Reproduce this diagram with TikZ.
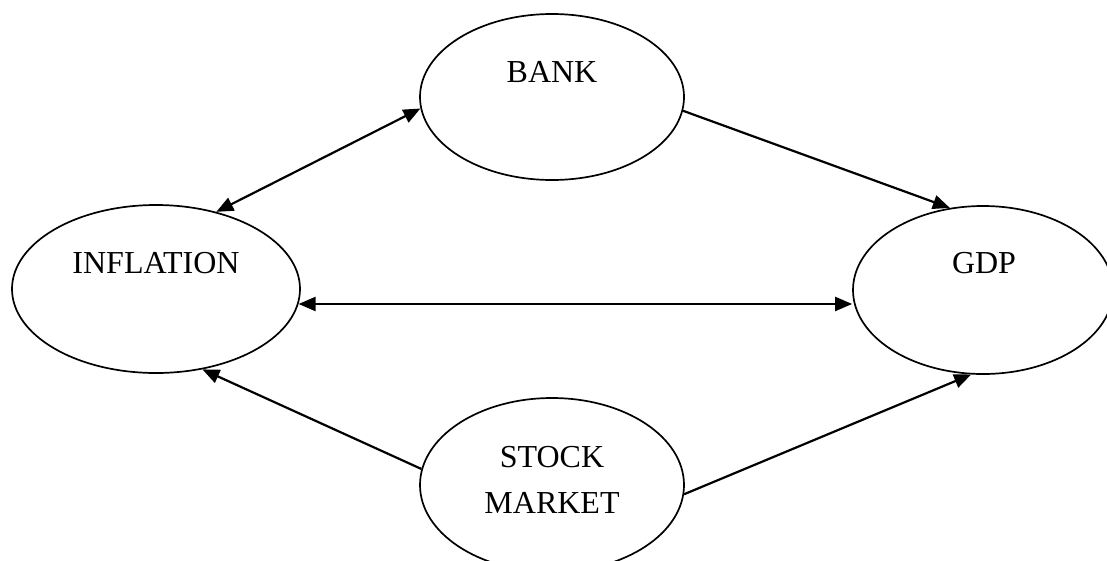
\documentclass[tikz,border=0pt]{standalone}
\usepackage{fontspec}
\setmainfont{Liberation Serif}
\usetikzlibrary{arrows.meta,shapes.geometric}

\tikzset{
  topic/.style={draw=black, line width=1.7pt, ellipse, inner sep=0pt, fill=none},
  caption/.style={inner sep=0pt, align=center, font=\fontsize{32}{46}\selectfont},
  tip/.style={Triangle[length=17pt,width=14pt]},
  link/.style={line width=2.2pt, -{Triangle[length=17pt,width=14pt]}},
  twoway/.style={line width=2.2pt, {Triangle[length=17pt,width=14pt]}-{Triangle[length=17pt,width=14pt]}}
}

\begin{document}
\begin{tikzpicture}[x=1pt, y=-1pt]
  \useasboundingbox (0,0) rectangle (1107,560);
  \clip (0,0) rectangle (1107,560);

  % the four ellipses
  \node[topic, minimum width=264pt, minimum height=166pt] (bank)  at (552,97)  {};
  \node[topic, minimum width=288pt, minimum height=168pt] (infl)  at (156,289) {};
  \node[topic, minimum width=260pt, minimum height=168pt] (gdp)   at (983,290) {};
  \node[topic, minimum width=264pt, minimum height=174pt] (stock) at (552,485) {};

  % their captions, set above the centre
  \node[caption] (bankT)  at (552,72)  {BANK};
  \node[caption] (inflT)  at (156,263) {INFLATION};
  \node[caption] (gdpT)   at (984,263) {GDP};
  \node[caption] (stockT) at (552,480) {STOCK\\MARKET};

  % connectors
  \draw[twoway] (infl.52) -- (bank.185.5);
  \draw[link]   (bank.354.4) -- (gdp.112);
  \draw[twoway] (infl.354) -- (infl.354 -| gdp.west);
  \draw[link]   (stock.173.5) -- (infl.300);
  \draw[link]   (stock.356.5) -- (gdp.262.5);
\end{tikzpicture}
\end{document}
